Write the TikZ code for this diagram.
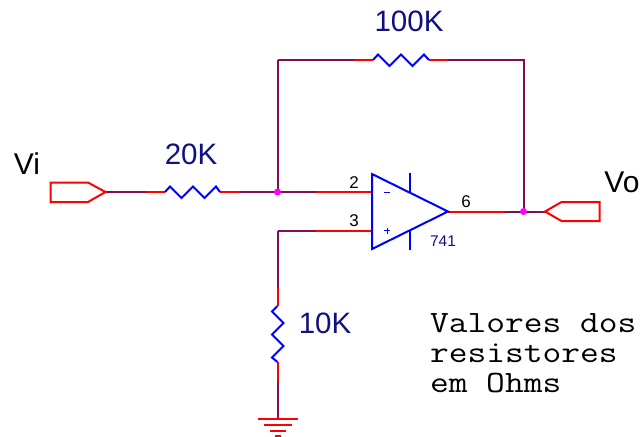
\documentclass[tikz,border=0pt]{standalone}
\usepackage{fontspec}
\setmainfont{Liberation Sans}
\newfontfamily\monofont[FakeStretch=1.175]{Latin Modern Mono}
\usepackage{xcolor}
\usetikzlibrary{shapes,backgrounds}
\definecolor{wirepurple}{RGB}{128,16,80}
\definecolor{labelnavy}{RGB}{16,16,128}
\definecolor{partblue}{RGB}{0,0,255}
\definecolor{dotpink}{RGB}{255,0,255}

\begin{document}
\begin{tikzpicture}[x=1pt,y=-1pt,line width=2pt,
                    net/.style={draw=wirepurple,line width=2pt},
                    lead/.style={draw=red,line width=2pt},
                    part/.style={draw=partblue,line join=miter},
                    port/.style={draw=red},
                    value/.style={inner sep=0pt,text=labelnavy,font=\fontsize{29.5}{29.5}\selectfont},
                    sig/.style={inner sep=0pt,text=black,font=\fontsize{30}{30}\selectfont},
                    pin/.style={inner sep=0pt,text=black,font=\fontsize{17}{17}\selectfont},
                    dot/.style={circle,fill=dotpink,inner sep=0pt,minimum size=7pt}]
  \useasboundingbox (0,0) rectangle (641,437);

  % feedback loop and input
  \coordinate (vi) at (105.5,192);
  \coordinate (r1a) at (165,192);
  \coordinate (r1b) at (220,192);
  \coordinate (in2) at (372,192);
  \coordinate (in3) at (372,231);
  \coordinate (c1) at (277.5,60);
  \coordinate (c2) at (523.5,60);
  \coordinate (c3) at (277.5,231);
  \coordinate (r2a) at (373,60);
  \coordinate (r2b) at (429,60);
  \coordinate (r3a) at (277.5,306);
  \coordinate (r3b) at (277.5,362);
  \coordinate (gnd) at (277.5,419);
  \coordinate (out) at (448,211.5);
  \coordinate (vo) at (545,211.5);
  \node[dot] (j1) at (277.5,192) {};
  \node[dot] (j2) at (523.5,211.5) {};

  \begin{scope}[on background layer]
  \path (vi) edge [net] (146,192)
        (146,192) edge [lead] (r1a)
        (r1b) edge [lead] (240,192)
        (240,192) edge [net] (j1.center)
        (j1.center) edge [net] (316,192)
        (316,192) edge [lead] (in2)
        (j1.center) edge [net] (c1)
        (c3) edge [net] (316,231)
        (316,231) edge [lead] (in3)
        (r2b) edge [lead] (448,60)
        (r2a) edge [lead] (354,60)
        (c3) edge [net] (277.5,287)
        (277.5,287) edge [lead] (r3a)
        (r3b) edge [lead] (277.5,382)
        (277.5,382) edge [net] (gnd)
        (out) edge [lead] (505,211.5)
        (505,211.5) edge [net] (vo);
  \draw[net] (c1) -- (354,60);
  \draw[net] (448,60) -- (c2) -- (j2.center);
  \end{scope}

  % resistors
  \draw[part] (r1a) -- ++(5,-5.5) -- ++(11.5,11.5) -- ++(11.5,-11.5) -- ++(11.5,11.5) -- ++(11.5,-11.5) -- (r1b);
  \draw[part] (r2a) -- ++(5,-5.5) -- ++(11.5,11.5) -- ++(11.5,-11.5) -- ++(11.5,11.5) -- ++(11.5,-11.5) -- (r2b);
  \draw[part] (r3a) -- ++(-5.5,5.5) -- ++(11.5,11.5) -- ++(-11.5,11.5) -- ++(11.5,11.5) -- ++(-11.5,11.5) -- (r3b);

  % amplifier
  \draw[part] (372,174) -- (out) -- (372,249) -- cycle;
  \draw[part] (410,173) -- (410,193);
  \draw[part] (410,230) -- (410,250);
  \draw[part,line width=1pt] (384,192) -- (390,192);
  \draw[part,line width=1pt] (384,230.5) -- (390,230.5) (387,227.5) -- (387,233.5);

  % ports
  \draw[port] (vi) -- (88,202) -- (50.5,202) -- (50.5,182.5) -- (88,182.5) -- cycle;
  \draw[port] (vo) -- (561.5,221) -- (599.5,221) -- (599.5,202) -- (561.5,202) -- cycle;

  % ground
  \draw[lead] (258,419) -- (298,419);
  \draw[lead] (264,425) -- (292,425);
  \draw[lead] (270,431) -- (286,431);
  \draw[lead] (275,436) -- (281,436);

  % labels
  \node[value] (l100k) at (409,21) {100K};
  \node[value] (l20k) at (191,154) {20K};
  \node[value] (l10k) at (325,323) {10K};
  \node[sig] (lvi) at (27,164) {Vi};
  \node[sig] (lvo) at (622,182) {Vo};
  \node[pin] (p2) at (354,183) {2};
  \node[pin] (p3) at (354,221) {3};
  \node[pin] (p6) at (466,202) {6};
  \node[pin,text=labelnavy,font=\fontsize{15.5}{15.5}\selectfont] (l741) at (443,241) {741};
  \node[inner sep=0pt,anchor=north west,align=left,
        font=\monofont\fontsize{31}{30}\selectfont] (note) at (429,313)
    {Valores dos\\resistores\\em Ohms};
\end{tikzpicture}
\end{document}
